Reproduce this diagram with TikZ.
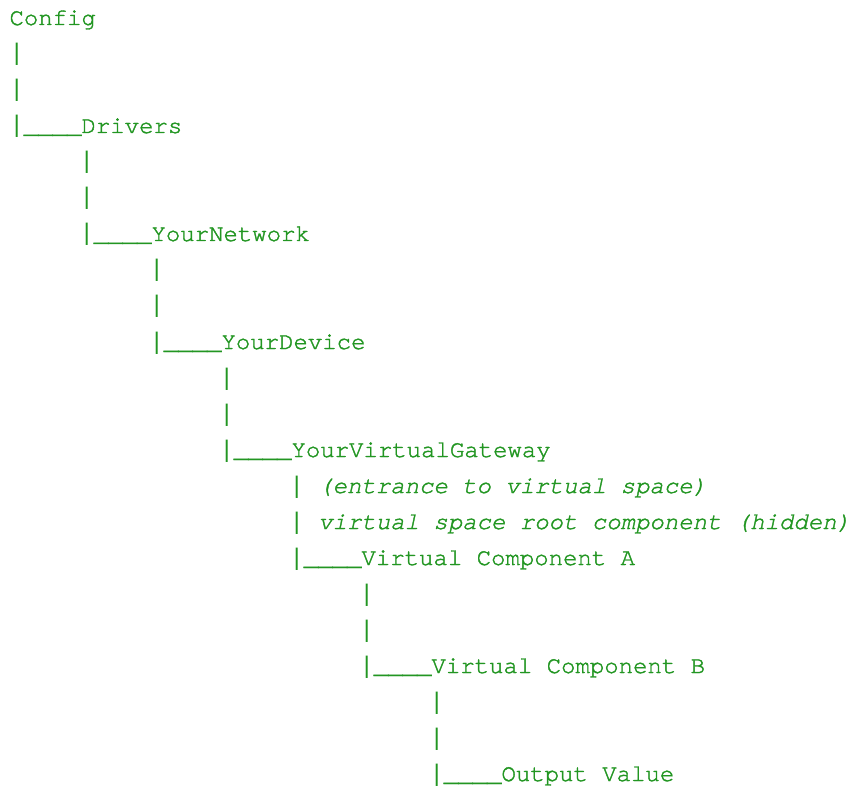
\documentclass[tikz,border=0pt]{standalone}
\usepackage{fontspec}
\setmonofont{TeX Gyre Cursor}[Ligatures=NoCommon, FakeBold=1.6, BoldFont=TeX Gyre Cursor, BoldFeatures={FakeBold=1.6}]
\newfontfamily\barfont{Liberation Mono}
\definecolor{treegreen}{RGB}{34,150,34}
\tikzset{
  ln/.style={anchor=base west, inner sep=0pt, outer sep=0pt, text=treegreen,
    font=\ttfamily\bfseries\fontsize{24}{36}\selectfont},
}
\newcommand{\lvl}{70}
\newcommand{\vb}{{\barfont\mdseries|}}
\begin{document}
\begin{tikzpicture}[x=1pt,y=-1pt]
\useasboundingbox[fill=white] (0,0) rectangle (857,786);
\node[ln] (l0) at (9.5,25) {Config};
\node[ln] (l1) at (9.5,61) {\vb};
\node[ln] (l2) at (9.5,97) {\vb};
\node[ln] (l3) at (9.5,133) {\vb\_\_\_\_Drivers};
\node[ln] (l4) at ({9.5+1*\lvl},169) {\vb};
\node[ln] (l5) at ({9.5+1*\lvl},205) {\vb};
\node[ln] (l6) at ({9.5+1*\lvl},241) {\vb\_\_\_\_YourNetwork};
\node[ln] (l7) at ({9.5+2*\lvl},277) {\vb};
\node[ln] (l8) at ({9.5+2*\lvl},313) {\vb};
\node[ln] (l9) at ({9.5+2*\lvl},349) {\vb\_\_\_\_YourDevice};
\node[ln] (l10) at ({9.5+3*\lvl},385) {\vb};
\node[ln] (l11) at ({9.5+3*\lvl},421) {\vb};
\node[ln] (l12) at ({9.5+3*\lvl},457) {\vb\_\_\_\_YourVirtualGateway};
\node[ln] (l13) at ({9.5+4*\lvl},493) {\vb\ \textit{(entrance to virtual space)}};
\node[ln] (l14) at ({9.5+4*\lvl},529) {\vb\ \textit{virtual space root component (hidden)}};
\node[ln] (l15) at ({9.5+4*\lvl},565) {\vb\_\_\_\_Virtual Component A};
\node[ln] (l16) at ({9.5+5*\lvl},601) {\vb};
\node[ln] (l17) at ({9.5+5*\lvl},637) {\vb};
\node[ln] (l18) at ({9.5+5*\lvl},673) {\vb\_\_\_\_Virtual Component B};
\node[ln] (l19) at ({9.5+6*\lvl},709) {\vb};
\node[ln] (l20) at ({9.5+6*\lvl},745) {\vb};
\node[ln] (l21) at ({9.5+6*\lvl},781) {\vb\_\_\_\_Output Value};
\end{tikzpicture}
\end{document}
